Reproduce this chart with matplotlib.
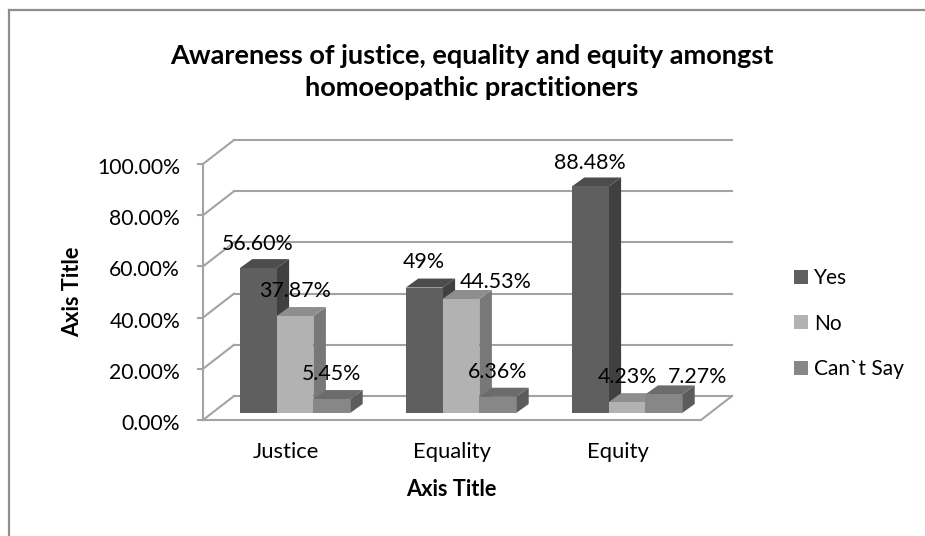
import numpy as np
from matplotlib import pyplot as plt
from matplotlib.lines import Line2D
from matplotlib.patches import Polygon, Rectangle
from matplotlib.transforms import ScaledTranslation

plt.rcParams['font.family'] = ['Lato', 'DejaVu Sans']

categories = ["Justice", "Equality", "Equity"]
series_names = ["Yes", "No", "Can`t Say"]
yes_values = [56.60, 49.00, 88.48]
no_values = [37.87, 44.53, 4.23]
cant_say_values = [5.45, 6.36, 7.27]
value_labels = [["56.60%", "49%", "88.48%"],
                ["37.87%", "44.53%", "4.23%"],
                ["5.45%", "6.36%", "7.27%"]]
y_ticks = [0, 20, 40, 60, 80, 100]
y_tick_labels = ["0.00%", "20.00%", "40.00%", "60.00%", "80.00%", "100.00%"]

W, H = 925, 536
# front plane of the fake 3d box, in pixels
left, right, top, bottom = 203, 701, 164, 420
UNIT_X = (right - left) / 3.0  # px per category
UNIT_Y = (bottom - top) / 100.0  # px per percent

# depth of box and of bars
box_dx, box_dy = 31 / UNIT_X, 24 / UNIT_Y
bar_dx, bar_dy = 12.5 / UNIT_X, 9 / UNIT_Y
base_dx, base_dy = 9 / UNIT_X, 7 / UNIT_Y
bar_w = 36.8 / UNIT_X

GRID = "#a3a3a3"
FRAME = "#8e8e8e"
front_cols = ["#5f5f5f", "#b2b2b2", "#878787"]
top_cols = ["#4c4c4c", "#8e8e8e", "#6c6c6c"]
side_cols = ["#404040", "#787878", "#5c5c5c"]

fig = plt.figure(figsize=(W / 100, H / 100), dpi=100)
# only top and left of the outer border are in the picture
fig.add_artist(Line2D([8.5 / W, 1], [1 - 10 / H, 1 - 10 / H], color=FRAME, lw=1.6))
fig.add_artist(Line2D([8.5 / W, 8.5 / W], [0, 1 - 10 / H], color=FRAME, lw=1.6))

ax = fig.add_axes([left / W, 1 - bottom / H, (right - left) / W, (bottom - top) / H])
ax.set_xlim(0, 3)
ax.set_ylim(0, 100)
ax.patch.set_visible(False)
for s in ax.spines.values():
    s.set_visible(False)

# walls and floor
for t in y_ticks:
    ax.plot([0, box_dx], [t, t + box_dy], color=GRID, lw=1.5, clip_on=False, zorder=1)
    ax.plot([box_dx, 3 + box_dx], [t + box_dy, t + box_dy], color=GRID, lw=1.5, clip_on=False, zorder=1)
ax.plot([0, 0], [0, 100], color=GRID, lw=1.5, clip_on=False, zorder=1)
ax.plot([0, 3, 3 + box_dx], [0, 0, box_dy], color=GRID, lw=1.5, clip_on=False, zorder=1)

all_values = [yes_values, no_values, cant_say_values]
# label offset from the middle of the bar top, pixels
label_offsets = [[(0, 18), (0, 20), (0, 17)],
                 [(0, 19), (35, 11), (0, 19)],
                 [(0, 19), (0, 19), (34, 11)]]
for s, vals in enumerate(all_values):
    for i, v in enumerate(vals):
        x0 = i + 0.5 - 1.5 * bar_w + s * bar_w + base_dx
        y0 = base_dy
        x1 = x0 + bar_w
        y1 = y0 + v
        z = 3 + i * 3 + s
        ax.add_patch(Rectangle((x0, y0), bar_w, v, facecolor=front_cols[s], edgecolor="none",
                               clip_on=False, zorder=z + 0.2))
        ax.add_patch(Polygon([(x0, y1), (x1, y1), (x1 + bar_dx, y1 + bar_dy), (x0 + bar_dx, y1 + bar_dy)],
                             facecolor=top_cols[s], edgecolor="none", clip_on=False, zorder=z + 0.1))
        ax.add_patch(Polygon([(x1, y0), (x1 + bar_dx, y0 + bar_dy), (x1 + bar_dx, y1 + bar_dy), (x1, y1)],
                             facecolor=side_cols[s], edgecolor="none", clip_on=False, zorder=z))
        ox, oy = label_offsets[s][i]
        ax.annotate(value_labels[s][i], (x0 + bar_w / 2, y1), xytext=(ox, oy), textcoords="offset pixels",
                    ha="center", va="baseline", fontsize=15.4, color="black", zorder=30, annotation_clip=False)

ax.set_yticks(y_ticks)
ax.set_yticklabels(y_tick_labels, fontsize=15.2)
ax.tick_params(axis="y", length=4.5, width=1.5, color=GRID, pad=12)
for lbl in ax.get_yticklabels():
    lbl.set_transform(lbl.get_transform() + ScaledTranslation(0, -2 / 100, fig.dpi_scale_trans))
ax.set_xticks([0.5, 1.5, 2.5])
ax.set_xticklabels(categories, fontsize=15.8)
ax.tick_params(axis="x", length=0, pad=16)

fig.text(73 / W, 1 - 291.5 / H, "Axis Title", rotation=90, ha="center", va="center",
         fontsize=15.7, fontweight="bold")
fig.text(451.5 / W, 1 - 489 / H, "Axis Title", ha="center", va="center", fontsize=15.7, fontweight="bold")
fig.text(472 / W, 1 - 72 / H, "Awareness of justice, equality and equity amongst\nhomoeopathic practitioners",
         ha="center", va="center", fontsize=19.5, fontweight="bold", linespacing=1.36)

# legend
handles = [Rectangle((0, 0), 1, 1, facecolor=c, edgecolor="none") for c in front_cols]
fig.legend(handles, series_names, loc="center left", bbox_to_anchor=(794 / W, 1 - 323.5 / H), frameon=False,
           fontsize=15, handlelength=0.67, handleheight=0.67, handletextpad=0.3, labelspacing=1.22,
           borderpad=0, borderaxespad=0)

fig.savefig("out.png", dpi=100)
